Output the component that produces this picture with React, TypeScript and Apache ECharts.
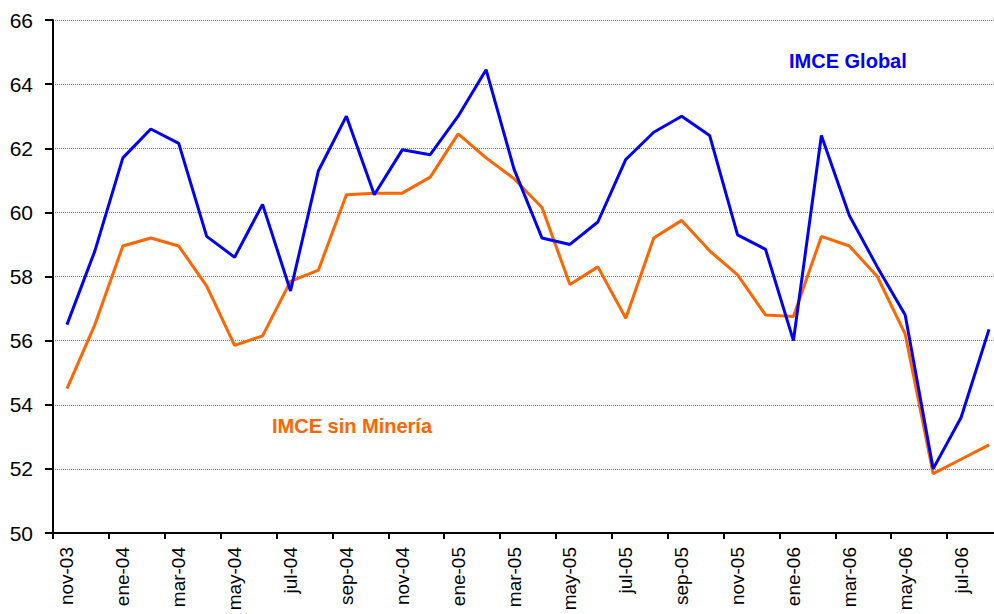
import React, { useEffect, useRef } from "react";
import * as echarts from "echarts";

const months: string[] = [
  "nov-03", "dic-03", "ene-04", "feb-04", "mar-04", "abr-04", "may-04", "jun-04",
  "jul-04", "ago-04", "sep-04", "oct-04", "nov-04", "dic-04", "ene-05", "feb-05",
  "mar-05", "abr-05", "may-05", "jun-05", "jul-05", "ago-05", "sep-05", "oct-05",
  "nov-05", "dic-05", "ene-06", "feb-06", "mar-06", "abr-06", "may-06", "jun-06",
  "jul-06", "ago-06",
];

const imceGlobal: number[] = [
  56.5, 58.8, 61.7, 62.6, 62.15, 59.25, 58.6, 60.25,
  57.55, 61.3, 63.0, 60.55, 61.95, 61.8, 63.0, 64.45,
  61.35, 59.2, 59.0, 59.7, 61.65, 62.5, 63.0, 62.4,
  59.3, 58.85, 56.0, 62.4, 59.9, 58.3, 56.8, 52.0,
  53.6, 56.35,
];

const imceSinMineria: number[] = [
  54.5, 56.5, 58.95, 59.2, 58.95, 57.7, 55.85, 56.15,
  57.85, 58.2, 60.55, 60.6, 60.6, 61.1, 62.45, 61.7,
  61.05, 60.15, 57.75, 58.3, 56.7, 59.2, 59.75, 58.8,
  58.05, 56.8, 56.75, 59.25, 58.95, 58.0, 56.2, 51.85,
  52.3, 52.75,
];

const seriesNames = ["IMCE Global", "IMCE sin Minería"];

const FONT = 'Arial, "Liberation Sans", sans-serif';

export default function App() {
  const ref = useRef<HTMLDivElement>(null);

  useEffect(() => {
    if (!ref.current) return;
    const chart = echarts.init(ref.current, null, { renderer: "svg" });
    chart.setOption({
      animation: false,
      backgroundColor: "#ffffff",
      grid: {
        left: 53,
        top: 20,
        right: -9,
        bottom: 81,
        containLabel: false,
        outerBoundsMode: "none",
      },
      xAxis: {
        type: "category",
        data: months,
        boundaryGap: true,
        axisLine: { show: true, lineStyle: { color: "#000", width: 2 } },
        axisTick: { show: true, interval: 1, length: 6, lineStyle: { color: "#000", width: 2 } },
        axisLabel: {
          interval: 1,
          rotate: 90,
          margin: 14,
          color: "#000",
          fontSize: 19,
          fontFamily: FONT,
        },
        splitLine: { show: false },
      },
      yAxis: {
        type: "value",
        min: 50,
        max: 66,
        interval: 2,
        axisLine: { show: true, lineStyle: { color: "#000", width: 2 } },
        axisTick: { show: true, length: 8, lineStyle: { color: "#000", width: 2 } },
        axisLabel: {
          margin: 20,
          color: "#000",
          fontSize: 21,
          fontFamily: FONT,
        },
        splitLine: { show: true, lineStyle: { color: "#777", width: 1, type: [1, 1] } },
      },
      series: [
        {
          name: seriesNames[0],
          type: "line",
          data: imceGlobal,
          symbol: "none",
          lineStyle: { color: "#0000FF", width: 3 },
          z: 3,
        },
        {
          name: seriesNames[1],
          type: "line",
          data: imceSinMineria,
          symbol: "none",
          lineStyle: { color: "#FF6600", width: 3 },
          z: 2,
        },
      ],
      graphic: [
        {
          type: "text",
          x: 789,
          y: 61,
          style: {
            text: seriesNames[0],
            fill: "#0000FF",
            font: `bold 20px ${FONT}`,
            textVerticalAlign: "middle",
          },
        },
        {
          type: "text",
          x: 272,
          y: 426,
          style: {
            text: seriesNames[1],
            fill: "#FF6600",
            font: `bold 20px ${FONT}`,
            textVerticalAlign: "middle",
          },
        },
      ],
    });
    return () => chart.dispose();
  }, []);

  return (
    <div
      ref={ref}
      style={{ position: "absolute", left: 0, top: 0, width: 994, height: 614 }}
    />
  );
}
